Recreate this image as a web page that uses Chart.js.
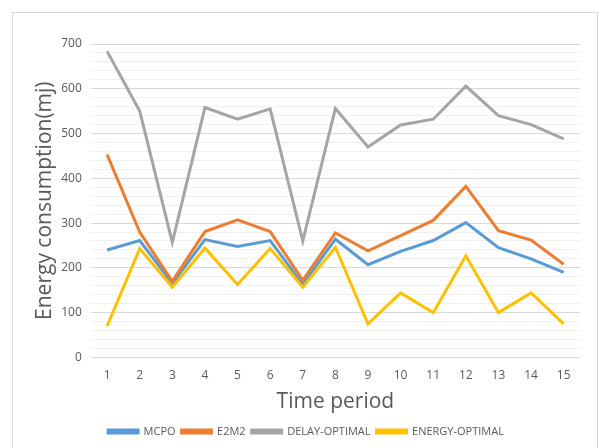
<!DOCTYPE html>
<html>
<head>
<meta charset="utf-8">
<script src="https://cdn.jsdelivr.net/npm/chart.js@4/dist/chart.umd.min.js"></script>
<style>
  html, body { margin: 0; padding: 0; background: #ffffff; }
  #wrap { width: 599px; height: 448px; position: relative; }
</style>
</head>
<body>
<div id="wrap"><canvas id="chart" width="599" height="448"></canvas></div>
<script>
// Time periods on the x axis
const periods = ['1','2','3','4','5','6','7','8','9','10','11','12','13','14','15'];

// Energy consumption (mj) per scheme
const mcpo         = [240, 261, 165, 263, 248, 261, 163, 264, 207, 237, 261, 301, 245, 220, 190];
const e2m2         = [453, 280, 170, 281, 307, 281, 172, 278, 238, 272, 306, 382, 283, 262, 208];
const delayOptimal = [684, 550, 257, 558, 532, 555, 260, 556, 470, 519, 532, 606, 540, 520, 488];
const energyOptimal= [ 70, 243, 157, 244, 163, 243, 157, 246,  75, 144, 100, 227, 100, 144,  75];

const seriesNames = ['MCPO', 'E2M2', 'DELAY-OPTIMAL', 'ENERGY-OPTIMAL'];
const seriesColors = ['#5B9BD5', '#ED7D31', '#A5A5A5', '#FFC000'];
const seriesData = [mcpo, e2m2, delayOptimal, energyOptimal];

const FONT = "'Open Sans', 'Liberation Sans', sans-serif";
const TEXT = '#595959';

// White page with a thin light frame around the chart
const framePlugin = {
  id: 'frame',
  beforeDraw(chart) {
    const ctx = chart.ctx;
    ctx.save();
    ctx.fillStyle = '#ffffff';
    ctx.fillRect(0, 0, chart.width, chart.height);
    ctx.strokeStyle = '#d9d9d9';
    ctx.lineWidth = 1;
    ctx.strokeRect(12.5, 12.5, 585, 450);
    ctx.restore();
  }
};

const datasets = seriesData.map((vals, i) => ({
  label: seriesNames[i],
  data: vals,
  borderColor: seriesColors[i],
  backgroundColor: seriesColors[i],
  borderWidth: 3,
  pointRadius: 0,
  pointHoverRadius: 0,
  tension: 0,
  fill: false,
  // later series are painted over earlier ones
  order: seriesData.length - i
}));

new Chart(document.getElementById('chart'), {
  type: 'line',
  data: { labels: periods, datasets },
  plugins: [framePlugin],
  options: {
    responsive: false,
    animation: false,
    devicePixelRatio: 1,
    layout: { padding: { left: 32, right: 19, top: 44, bottom: 1 } },
    plugins: {
      tooltip: { enabled: false },
      legend: {
        position: 'bottom',
        labels: {
          boxWidth: 30,
          boxHeight: 3,
          padding: 6,
          color: TEXT,
          font: { family: FONT, size: 11 },
          sort: (a, b) => a.datasetIndex - b.datasetIndex
        }
      }
    },
    scales: {
      x: {
        offset: true,
        grid: { display: false },
        border: { display: false },
        ticks: { color: TEXT, font: { family: FONT, size: 12 }, padding: 3 },
        title: {
          display: true,
          text: 'Time period',
          color: TEXT,
          font: { family: FONT, size: 21 },
          padding: { top: 4, bottom: 5 }
        }
      },
      y: {
        min: 0,
        max: 700,
        border: { display: false },
        grid: {
          drawTicks: false,
          color: (c) => (c.tick && c.tick.value % 100 === 0) ? '#d9d9d9' : '#f0f0f0',
          lineWidth: 1
        },
        ticks: {
          stepSize: 20,
          autoSkip: false,
          color: TEXT,
          font: { family: FONT, size: 12 },
          padding: 9,
          callback: (v) => (v % 100 === 0 ? String(v) : '')
        },
        title: {
          display: true,
          text: 'Energy consumption(mj)',
          color: TEXT,
          font: { family: FONT, size: 21 },
          padding: { top: 0, bottom: -5 }
        }
      }
    }
  }
});
</script>
</body>
</html>
